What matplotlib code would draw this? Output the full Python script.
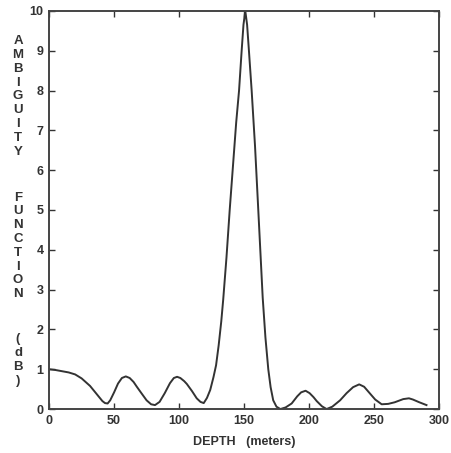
import matplotlib.pyplot as plt

plt.rcParams['font.family'] = ['Liberation Sans', 'DejaVu Sans']

# valori
depth = [0, 5, 10, 15, 20, 25, 31.5, 37, 41, 43, 45, 47, 50, 53, 56, 59, 62, 65, 67.5, 71, 75,
         78.5, 81.5, 85, 89, 93, 96, 98.5, 101, 104, 106, 110, 113.6, 116.5, 119, 121.5, 124,
         126.5, 128.5, 130.5, 132.5, 134, 136.5, 139, 141.5, 144, 146.2, 148.2, 149.6, 151,
         152.4, 153.8, 155.9, 158.5, 161, 162.7, 164.4, 166.5, 168.7, 170.5, 172.5, 175, 178,
         182, 186.7, 191, 194, 197.4, 200.5, 203.5, 206, 210, 213.6, 218, 224, 229, 234, 238.7,
         242.5, 247, 251, 256, 261, 266, 272.6, 277, 280, 285, 290.5]
ambiguity = [1.0, 0.98, 0.95, 0.92, 0.87, 0.77, 0.58, 0.36, 0.2, 0.15, 0.14, 0.22, 0.42, 0.64,
             0.78, 0.82, 0.78, 0.68, 0.56, 0.4, 0.22, 0.12, 0.1, 0.18, 0.4, 0.65, 0.78, 0.81,
             0.78, 0.7, 0.63, 0.45, 0.27, 0.18, 0.15, 0.28, 0.48, 0.8, 1.1, 1.6, 2.2, 2.75, 3.8,
             5.0, 6.1, 7.2, 8.0, 9.0, 9.65, 10.0, 9.65, 9.0, 8.0, 6.6, 5.0, 3.9, 2.8, 1.8, 1.0,
             0.55, 0.22, 0.06, 0.0, 0.04, 0.14, 0.32, 0.42, 0.46, 0.4, 0.3, 0.2, 0.07, 0.0,
             0.06, 0.22, 0.4, 0.55, 0.62, 0.56, 0.39, 0.24, 0.12, 0.13, 0.17, 0.25, 0.27, 0.24,
             0.17, 0.1]

x_ticks = [0, 50, 100, 150, 200, 250, 300]
y_ticks = list(range(0, 11))

fig = plt.figure(figsize=(4.51, 4.53), dpi=100)
ax = fig.add_axes([0.109, 0.097, 0.864, 0.879])

ax.plot(depth, ambiguity, color='#333333', linewidth=1.4)

ax.set_xlim(0, 300)
ax.set_ylim(0, 10)
ax.set_xticks(x_ticks)
ax.set_yticks(y_ticks)
ax.tick_params(direction='in', top=True, right=True, length=4, width=1,
               labelsize=9, colors='#333333', pad=4)
for lbl in ax.get_xticklabels() + ax.get_yticklabels():
    lbl.set_fontweight('bold')
for sp in ax.spines.values():
    sp.set_linewidth(1.4)
    sp.set_color('#444444')

# eticheta axei X
ax.set_xlabel('DEPTH   (meters)', fontsize=9, fontweight='bold', color='#333333', labelpad=7)

# eticheta axei Y, litere una sub alta
for word, yc in [('AMBIGUITY', 0.787), ('FUNCTION', 0.457), ('(dB)', 0.205)]:
    fig.text(0.04, yc, '\n'.join(word), ha='center', va='center', fontsize=9.5,
             fontweight='bold', color='#333333', linespacing=1.2)

fig.savefig('out.png', dpi=100)
